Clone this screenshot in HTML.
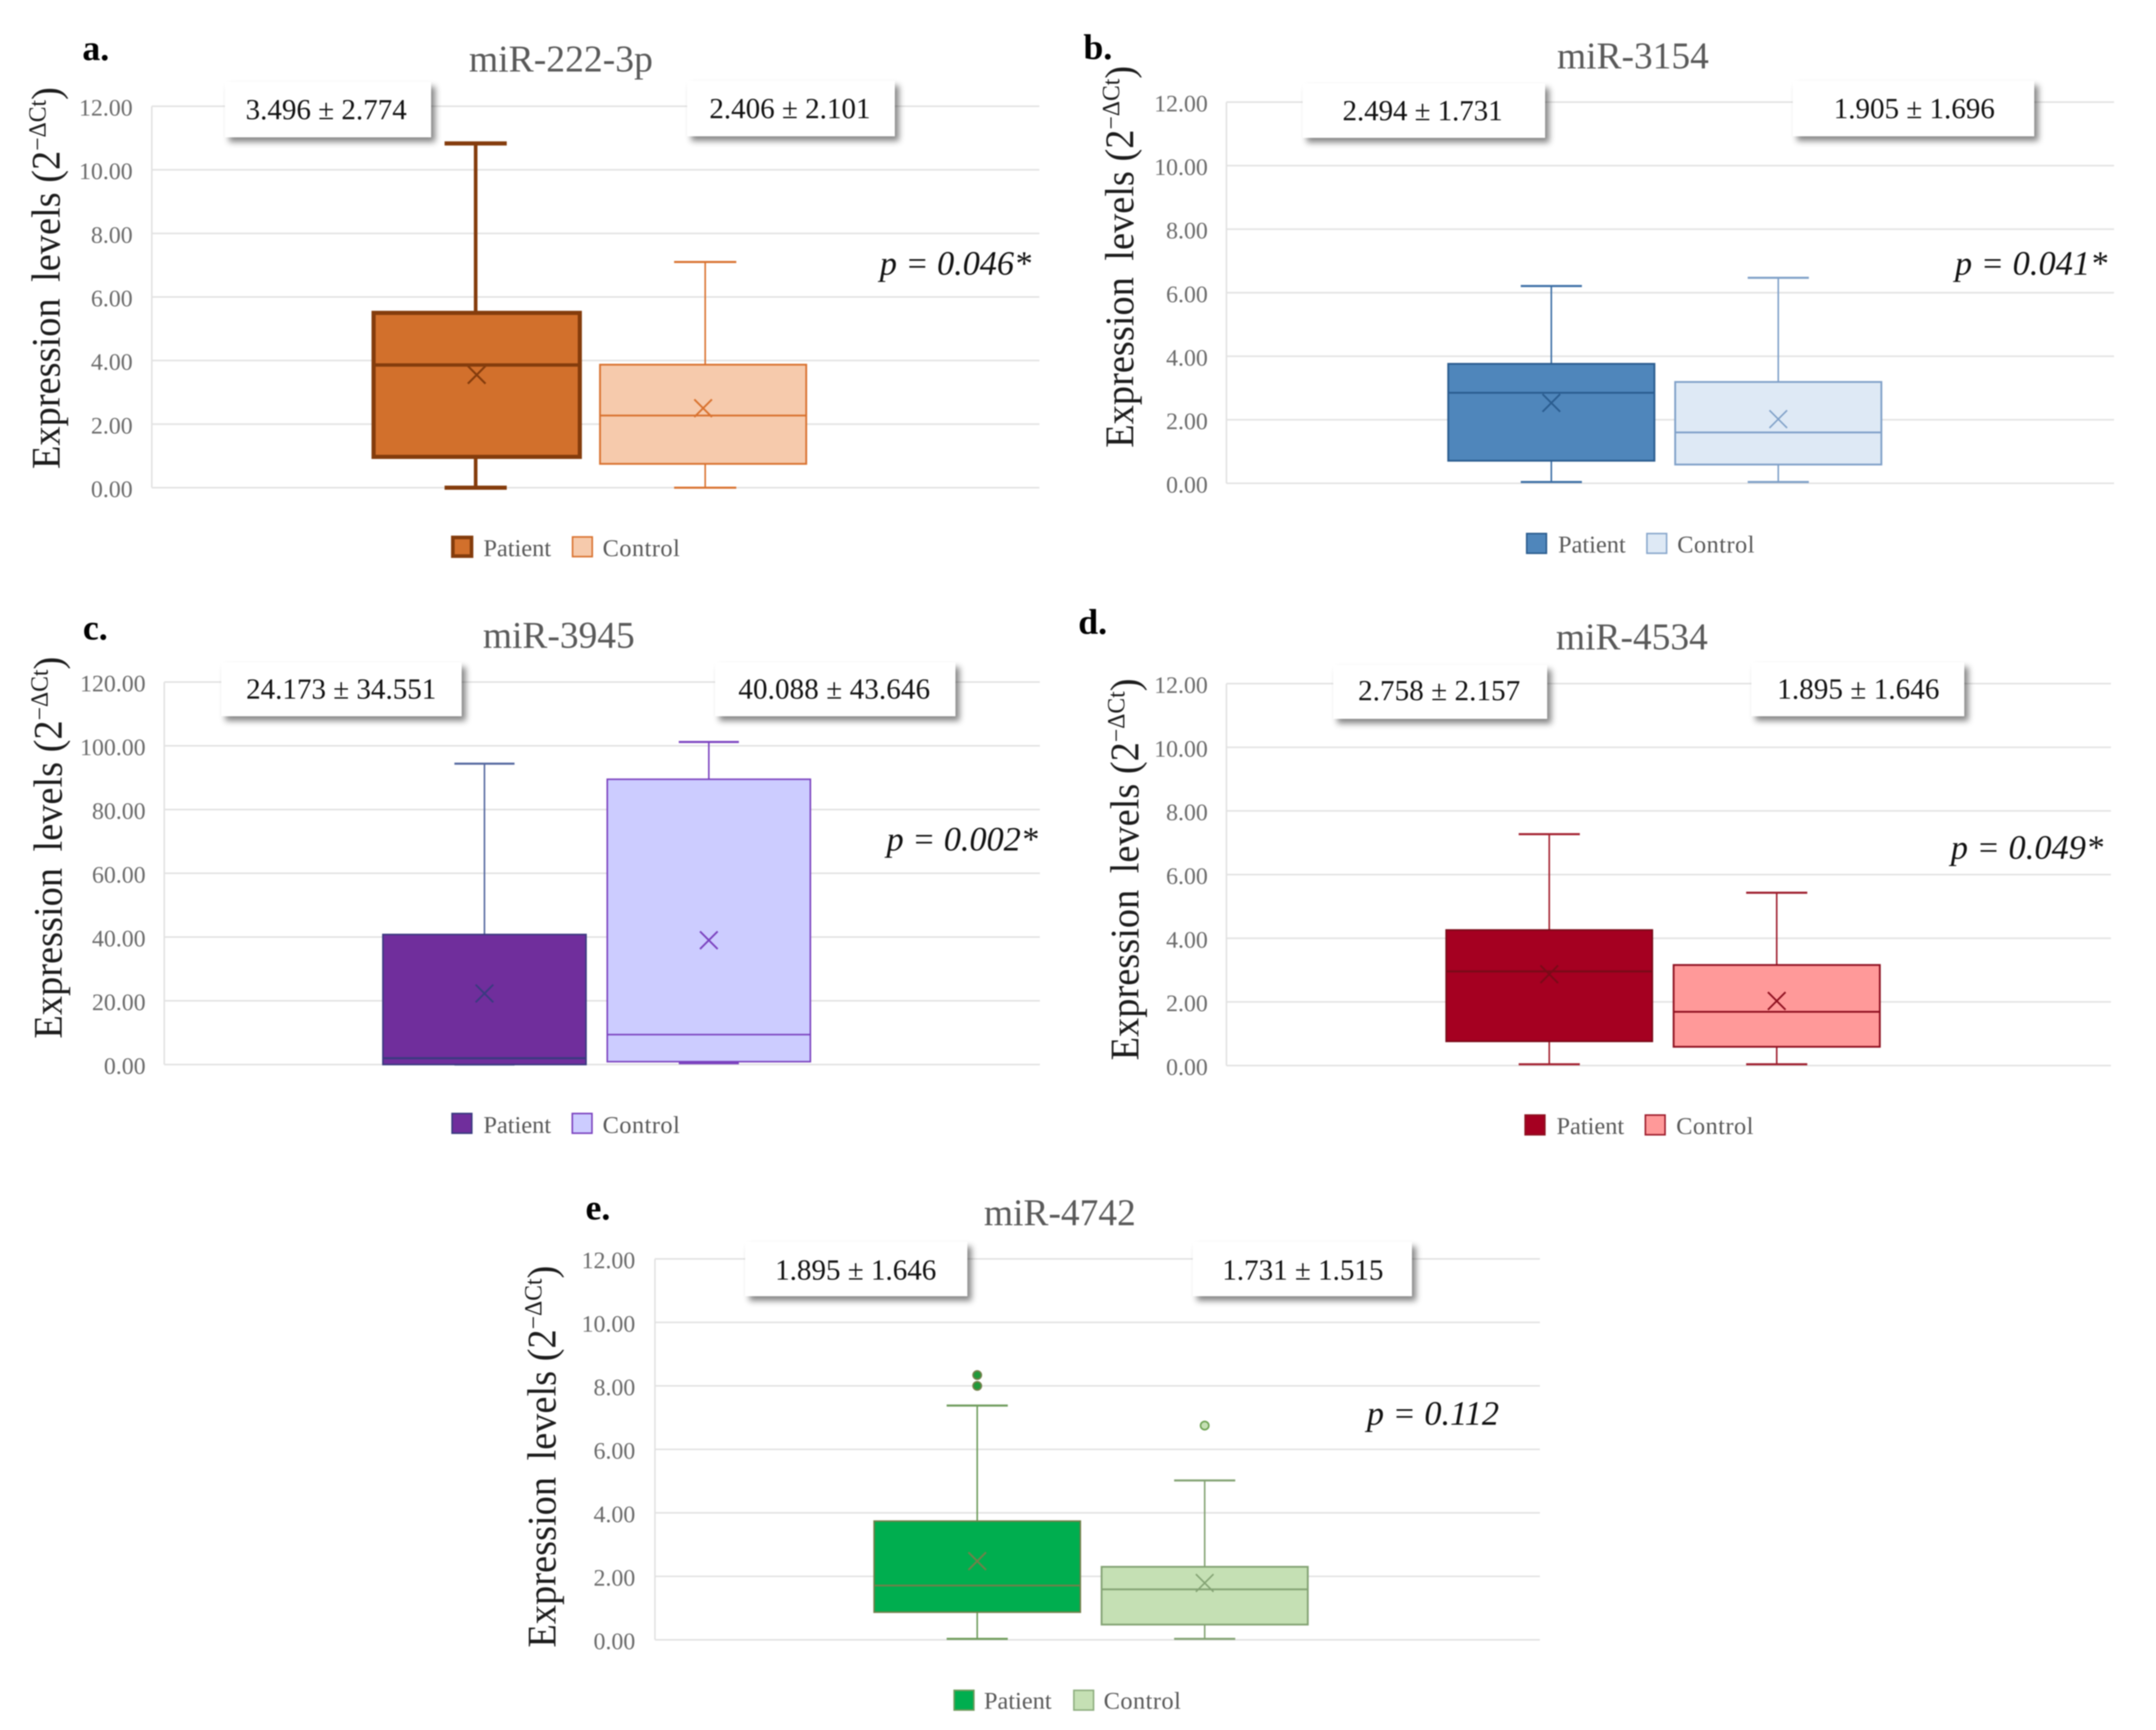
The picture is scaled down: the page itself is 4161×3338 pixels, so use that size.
<!DOCTYPE html>
<html lang="en">
<head>
<meta charset="utf-8">
<title>miRNA expression levels box plots</title>
<style>
html,body{margin:0;padding:0;background:#fff;}
body{width:4161px;height:3338px;overflow:hidden;}
svg{display:block;filter:blur(1.1px);font-family:"Liberation Serif",serif;}
.panel-letter{font-size:69px;font-weight:bold;fill:#000;}
.title{font-size:73px;fill:#595959;}
.y-title{font-size:78px;fill:#1c1c1c;}
.stat-box{fill:#fff;filter:url(#box-shadow);}
.stat-text{font-size:56px;fill:#111;}
.p-value{font-size:66px;font-style:italic;fill:#111;}
.legend-text{font-size:47px;fill:#595959;}
.tick-label{font-size:46px;fill:#6a6a6a;text-anchor:end;}
</style>
</head>
<body>
<svg id="figure" xmlns="http://www.w3.org/2000/svg" width="4161" height="3338" viewBox="0 0 4161 3338">
<defs>
<filter id="box-shadow" x="-10%" y="-15%" width="125%" height="145%">
<feDropShadow dx="8" dy="9" stdDeviation="6" flood-color="#000" flood-opacity="0.48"/>
</filter>
</defs>
<rect width="4161" height="3338" fill="#fff"/>

<g id="panel-a">
<g id="plot-a"></g>
<text class="panel-letter" x="159" y="116">a.</text>
<text class="title" x="905" y="138" textLength="355" lengthAdjust="spacingAndGlyphs">miR-222-3p</text>
<text class="y-title" transform="translate(115,905) rotate(-90) scale(0.95,1)">Expression<tspan dx="14"> levels (2</tspan><tspan dy="-27" font-size="48">−ΔCt</tspan><tspan dy="27">)</tspan></text>
<rect class="stat-box" x="434" y="158" width="398" height="107"/>
<text class="stat-text" x="474" y="230" textLength="311">3.496 ± 2.774</text>
<rect class="stat-box" x="1326" y="156" width="401" height="107"/>
<text class="stat-text" x="1369" y="228" textLength="311">2.406 ± 2.101</text>
<text class="p-value" x="1698" y="530" textLength="292">p = 0.046*</text>
<rect x="874" y="1037" width="36" height="36" fill="#D2702C" stroke="#843C0C" stroke-width="7"/>
<text class="legend-text" x="933" y="1073">Patient</text>
<rect x="1105" y="1036" width="38" height="38" fill="#F6CAAC" stroke="#D9722F" stroke-width="3"/>
<text class="legend-text" x="1163" y="1073" textLength="149">Control</text>
</g>

<g id="panel-b">
<g id="plot-b"></g>
<text class="panel-letter" x="2091" y="114">b.</text>
<text class="title" x="3005" y="132" textLength="293" lengthAdjust="spacingAndGlyphs">miR-3154</text>
<text class="y-title" transform="translate(2187,864) rotate(-90) scale(0.95,1)">Expression<tspan dx="14"> levels (2</tspan><tspan dy="-27" font-size="48">−ΔCt</tspan><tspan dy="27">)</tspan></text>
<rect class="stat-box" x="2514" y="161" width="468" height="105"/>
<text class="stat-text" x="2591" y="232" textLength="309">2.494 ± 1.731</text>
<rect class="stat-box" x="3460" y="156" width="466" height="107"/>
<text class="stat-text" x="3539" y="228" textLength="311">1.905 ± 1.696</text>
<text class="p-value" x="3773" y="530" textLength="294">p = 0.041*</text>
<rect x="2946.500" y="1029.500" width="38" height="38" fill="#4F86BB" stroke="#2A5C8F" stroke-width="3"/>
<text class="legend-text" x="3007" y="1066">Patient</text>
<rect x="3178.500" y="1029.500" width="38" height="38" fill="#DEE9F5" stroke="#8AA8CC" stroke-width="3"/>
<text class="legend-text" x="3237" y="1066" textLength="149">Control</text>
</g>

<g id="panel-c">
<g id="plot-c"></g>
<text class="panel-letter" x="160" y="1234">c.</text>
<text class="title" x="932" y="1250" textLength="293" lengthAdjust="spacingAndGlyphs">miR-3945</text>
<text class="y-title" transform="translate(119,2004) rotate(-90) scale(0.95,1)">Expression<tspan dx="14"> levels (2</tspan><tspan dy="-27" font-size="48">−ΔCt</tspan><tspan dy="27">)</tspan></text>
<rect class="stat-box" x="427" y="1278" width="464" height="104"/>
<text class="stat-text" x="475" y="1348" textLength="367">24.173 ± 34.551</text>
<rect class="stat-box" x="1380" y="1278" width="464" height="104"/>
<text class="stat-text" x="1425" y="1348" textLength="370">40.088 ± 43.646</text>
<text class="p-value" x="1711" y="1641" textLength="292">p = 0.002*</text>
<rect x="872.500" y="2148.500" width="38" height="38" fill="#702E9C" stroke="#3A3A80" stroke-width="3"/>
<text class="legend-text" x="933" y="2186">Patient</text>
<rect x="1104.500" y="2148.500" width="38" height="38" fill="#CCCCFF" stroke="#7B42BF" stroke-width="3"/>
<text class="legend-text" x="1163" y="2186" textLength="149">Control</text>
</g>

<g id="panel-d">
<g id="plot-d"></g>
<text class="panel-letter" x="2081" y="1223">d.</text>
<text class="title" x="3003" y="1253" textLength="293" lengthAdjust="spacingAndGlyphs">miR-4534</text>
<text class="y-title" transform="translate(2197,2046) rotate(-90) scale(0.95,1)">Expression<tspan dx="14"> levels (2</tspan><tspan dy="-27" font-size="48">−ΔCt</tspan><tspan dy="27">)</tspan></text>
<rect class="stat-box" x="2573" y="1283" width="413" height="104"/>
<text class="stat-text" x="2621" y="1351" textLength="313">2.758 ± 2.157</text>
<rect class="stat-box" x="3380" y="1278" width="411" height="104"/>
<text class="stat-text" x="3430" y="1348" textLength="313">1.895 ± 1.646</text>
<text class="p-value" x="3765" y="1657" textLength="294">p = 0.049*</text>
<rect x="2943.500" y="2151.500" width="38" height="38" fill="#A50021" stroke="#8E1020" stroke-width="3"/>
<text class="legend-text" x="3004" y="2188">Patient</text>
<rect x="3175.500" y="2151.500" width="38" height="38" fill="#FF9999" stroke="#9E1C2C" stroke-width="3"/>
<text class="legend-text" x="3235" y="2188" textLength="149">Control</text>
</g>

<g id="panel-e">
<g id="plot-e"></g>
<text class="panel-letter" x="1130" y="2353">e.</text>
<text class="title" x="1899" y="2364" textLength="293" lengthAdjust="spacingAndGlyphs">miR-4742</text>
<text class="y-title" transform="translate(1072,3179) rotate(-90) scale(0.95,1)">Expression<tspan dx="14"> levels (2</tspan><tspan dy="-27" font-size="48">−ΔCt</tspan><tspan dy="27">)</tspan></text>
<rect class="stat-box" x="1438" y="2396" width="429" height="105"/>
<text class="stat-text" x="1496" y="2469" textLength="311">1.895 ± 1.646</text>
<rect class="stat-box" x="2302" y="2396" width="423" height="105"/>
<text class="stat-text" x="2359" y="2469" textLength="311">1.731 ± 1.515</text>
<text class="p-value" x="2638" y="2749" textLength="255">p = 0.112</text>
<rect x="1841.500" y="3261.500" width="38" height="38" fill="#00AE4F" stroke="#6F9C5C" stroke-width="3"/>
<text class="legend-text" x="1899" y="3297">Patient</text>
<rect x="2072.500" y="3261.500" width="38" height="38" fill="#C5E0B4" stroke="#8FAF80" stroke-width="3"/>
<text class="legend-text" x="2130" y="3297" textLength="149">Control</text>
</g>
</svg>

<script>
// ---- Chart data ----
const categories = ['Patient', 'Control'];
const ticksUnits = ['0.00', '2.00', '4.00', '6.00', '8.00', '10.00', '12.00'];
const ticksTens = ['0.00', '20.00', '40.00', '60.00', '80.00', '100.00', '120.00'];

// Each five-number array: low whisker, Q1, median, Q3, high whisker. Means are separate.
const miR222Patient = [0, 0.97, 3.86, 5.5, 10.83];
const miR222Control = [0, 0.75, 2.27, 3.87, 7.1];
const miR222Means = [3.55, 2.5];

const miR3154Patient = [0.04, 0.71, 2.85, 3.76, 6.21];
const miR3154Control = [0.04, 0.59, 1.6, 3.19, 6.47];
const miR3154Means = [2.53, 2.02];

const miR3945Patient = [0, 0, 2, 40.8, 94.4];
const miR3945Control = [0.4, 0.9, 9.4, 89.5, 101.2];
const miR3945Means = [22.3, 39];

const miR4534Patient = [0.04, 0.76, 2.96, 4.26, 7.27];
const miR4534Control = [0.04, 0.59, 1.69, 3.16, 5.43];
const miR4534Means = [2.87, 2.03];

const miR4742Patient = [0.03, 0.87, 1.71, 3.74, 7.38];
const miR4742Control = [0.03, 0.48, 1.59, 2.3, 5.02];
const miR4742Means = [2.48, 1.79];
const miR4742PatientOutliers = [8.0, 8.34];
const miR4742ControlOutliers = [6.75];

const noOutliers = [];

// ---- Layout and styles (no data values) ----
const layoutA = {id: 'a', x0: 293, x1: 2006, yTop: 205, yBase: 941, labelGap: 37, labelDy: 18, whiskerX: [918, 1361], boxX: [920, 1357], boxW: 398, capW: 120};
const layoutB = {id: 'b', x0: 2367, x1: 4080, yTop: 197, yBase: 932.5, labelGap: 36, labelDy: 18, whiskerX: [2994, 3432], boxX: [2994, 3432], boxW: 398, capW: 118};
const layoutC = {id: 'c', x0: 317, x1: 2007, yTop: 1316, yBase: 2054, labelGap: 36, labelDy: 18, whiskerX: [935, 1368], boxX: [935, 1368], boxW: 392, capW: 116};
const layoutD = {id: 'd', x0: 2367, x1: 4074, yTop: 1319, yBase: 2056, labelGap: 36, labelDy: 18, whiskerX: [2990, 3429], boxX: [2990, 3429], boxW: 398, capW: 118};
const layoutE = {id: 'e', x0: 1264, x1: 2972, yTop: 2429, yBase: 3164, labelGap: 38, labelDy: 18, whiskerX: [1886, 2325], boxX: [1886, 2325], boxW: 398, capW: 118};

const styleA = [
  {fill: '#D2702C', line: '#843C0C', box: 8, whisk: 7, med: 6.500, mark: 4},
  {fill: '#F6CAAC', line: '#D9722F', box: 3.500, whisk: 3, med: 3.500, mark: 3.500}
];
const styleB = [
  {fill: '#4F86BB', line: '#2A5C8F', whisk2: '#3B6EA5', box: 3.500, whisk: 3, med: 3.500, mark: 3.500},
  {fill: '#DEE9F5', line: '#7FA0C8', box: 3.500, whisk: 3, med: 3.500, mark: 3}
];
const styleC = [
  {fill: '#702E9C', line: '#3A3A80', whisk2: '#54689F', box: 3, whisk: 3, med: 4, mark: 3.500},
  {fill: '#CCCCFF', line: '#7B42BF', box: 3, whisk: 3, med: 3, mark: 3.500}
];
const styleD = [
  {fill: '#A50021', line: '#7A0A18', whisk2: '#A3202F', box: 3, whisk: 3, med: 4, mark: 3.500},
  {fill: '#FF9999', line: '#8E1020', whisk2: '#9E1C2C', box: 3.500, whisk: 3, med: 3.500, mark: 3.500}
];
const styleE = [
  {fill: '#00AE4F', line: '#72804A', whisk2: '#6F9C5C', dot: '#1F9A3A', box: 3, whisk: 3, med: 3.500, mark: 3.500},
  {fill: '#C5E0B4', line: '#84A374', dot: '#C5E0B4', dotLine: '#6AA04E', box: 3.500, whisk: 3, med: 3.500, mark: 3}
];

const panels = [
  {layout: layoutA, ticks: ticksUnits, style: styleA, series: [miR222Patient, miR222Control], means: miR222Means, outliers: [noOutliers, noOutliers]},
  {layout: layoutB, ticks: ticksUnits, style: styleB, series: [miR3154Patient, miR3154Control], means: miR3154Means, outliers: [noOutliers, noOutliers]},
  {layout: layoutC, ticks: ticksTens, style: styleC, series: [miR3945Patient, miR3945Control], means: miR3945Means, outliers: [noOutliers, noOutliers]},
  {layout: layoutD, ticks: ticksUnits, style: styleD, series: [miR4534Patient, miR4534Control], means: miR4534Means, outliers: [noOutliers, noOutliers]},
  {layout: layoutE, ticks: ticksUnits, style: styleE, series: [miR4742Patient, miR4742Control], means: miR4742Means, outliers: [miR4742PatientOutliers, miR4742ControlOutliers]}
];

const NS = 'http://www.w3.org/2000/svg';
function mk(parent, tag, attrs) {
  const node = document.createElementNS(NS, tag);
  for (const key in attrs) node.setAttribute(key, attrs[key]);
  parent.appendChild(node);
  return node;
}
function yAxis(layout, maxValue) {
  return function (value) {
    return layout.yBase - (value / maxValue) * (layout.yBase - layout.yTop);
  };
}

panels.forEach(function (panel) {
  const L = panel.layout;
  const root = document.getElementById('plot-' + L.id);
  const maxValue = parseFloat(panel.ticks[panel.ticks.length - 1]);
  const y = yAxis(L, maxValue);

  const axisLine = mk(root, 'line', {x1: L.x0, x2: L.x0, y1: y(maxValue), y2: y(0), stroke: '#e2e2e2', 'stroke-width': 3});
  
  

  panel.ticks.forEach(function (label) {
    const value = parseFloat(label);
    const grid = mk(root, 'line', {x1: L.x0, x2: L.x1, y1: y(value), y2: y(value), stroke: '#e2e2e2', 'stroke-width': 3});
    
    
    const tick = mk(root, 'text', {class: 'tick-label', x: L.x0 - L.labelGap, y: y(value) + L.labelDy});
    
    
    tick.textContent = label;
  });

  categories.forEach(function (category, i) {
    const s = panel.style[i];
    const vals = panel.series[i];
    const cx = L.whiskerX[i];
    const boxCx = L.boxX[i];
    const key = category.toLowerCase() + '-' + L.id;
    const whiskColor = s.whisk2 || s.line;
    const low = vals[0], q1 = vals[1], med = vals[2], q3 = vals[3], high = vals[4];

    const group = mk(root, 'g', {});
    
    

    const upper = mk(group, 'line', {x1: cx, x2: cx, y1: y(q3), y2: y(high), stroke: whiskColor, 'stroke-width': s.whisk});
    
    
    const upperCap = mk(group, 'line', {x1: cx - L.capW / 2, x2: cx + L.capW / 2, y1: y(high), y2: y(high), stroke: whiskColor, 'stroke-width': s.whisk + 1});
    
    
    const lower = mk(group, 'line', {x1: cx, x2: cx, y1: y(q1), y2: y(low), stroke: whiskColor, 'stroke-width': s.whisk});
    
    
    const lowerCap = mk(group, 'line', {x1: cx - L.capW / 2, x2: cx + L.capW / 2, y1: y(low), y2: y(low), stroke: whiskColor, 'stroke-width': s.whisk + 1});
    
    

    const box = mk(group, 'rect', {x: boxCx - L.boxW / 2, y: y(q3), width: L.boxW, height: y(q1) - y(q3), fill: s.fill, stroke: s.line, 'stroke-width': s.box});
    
    

    const median = mk(group, 'line', {x1: boxCx - L.boxW / 2, x2: boxCx + L.boxW / 2, y1: y(med), y2: y(med), stroke: s.line, 'stroke-width': s.med});
    
    

    const my = y(panel.means[i]);
    const meanA = mk(group, 'line', {x1: boxCx - 17, x2: boxCx + 17, y1: my - 17, y2: my + 17, stroke: s.line, 'stroke-width': s.mark});
    
    
    const meanB = mk(group, 'line', {x1: boxCx - 17, x2: boxCx + 17, y1: my + 17, y2: my - 17, stroke: s.line, 'stroke-width': s.mark});
    
    

    panel.outliers[i].forEach(function (value) {
      const dot = mk(group, 'circle', {cx: cx, cy: y(value), r: 8, fill: s.dot, stroke: s.dotLine || s.line, 'stroke-width': 3});
      
      
    });
  });
});
</script>
</body>
</html>
